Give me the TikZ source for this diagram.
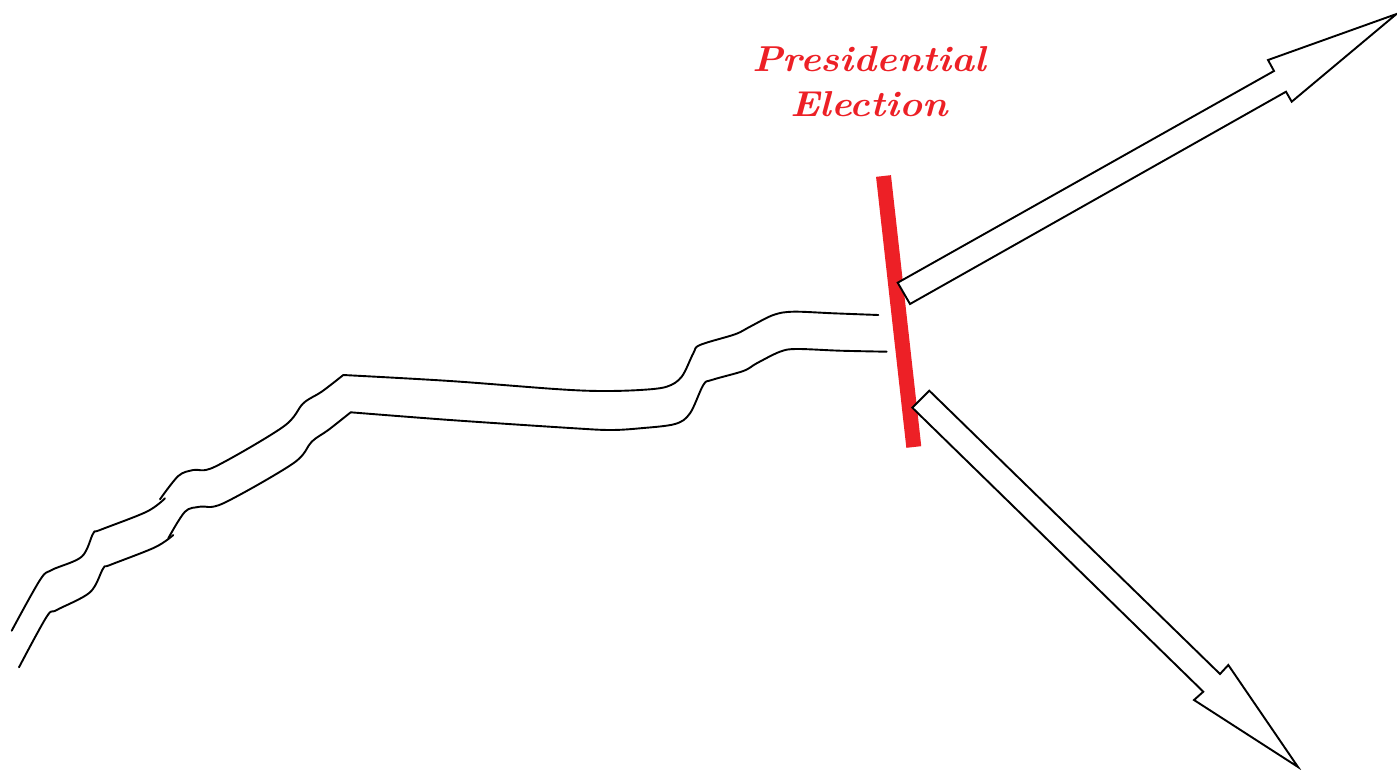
\documentclass[tikz,border=0pt]{standalone}
\usepackage{graphicx}
\definecolor{elecred}{RGB}{237,32,38}
\tikzset{
  road/.style={line width=1.9pt, black, line join=round, line cap=round},
  blockarrow/.style={fill=white, draw=black, line width=1.9pt, line join=miter},
  bar/.style={line width=15pt, elecred},
  label/.style={text=elecred, font=\fontsize{36}{45}\selectfont\bfseries\itshape, inner sep=0pt, anchor=base}
}
\begin{document}
\begin{tikzpicture}[x=1pt,y=-1pt]
\useasboundingbox (0,0) rectangle (1397,770);
% road, upper edge
\draw[road] plot[smooth, tension=0.55] coordinates {(11.7,630.7) (40,580) (51.7,570) (81.7,556.7) (93.3,533.3) (100,530) (146.7,511.7) (165,498.3)};
\draw[road] plot[smooth, tension=0.55] coordinates {(160,499.3) (178.3,476) (193.3,470) (215,466.7) (283.3,426.7) (303.3,403.3) (321.7,391.7) (343.3,375)};
\draw[road] plot[smooth, tension=0.55] coordinates {(343.3,375) (450,381) (555,389) (600,391) (640,390) (666.7,386.7) (681.7,376.7) (693.3,353.3) (700,345) (735,334.3) (750,326.7) (773.3,315) (793.3,311.7) (833.3,313.3) (878.3,315)};
% road, lower edge
\draw[road] plot[smooth, tension=0.55] coordinates {(19,667.3) (46.7,616.7) (56.7,610) (90,592.3) (103.3,568.3) (110,565) (155,547.3) (173.3,535)};
\draw[road] plot[smooth, tension=0.55] coordinates {(168.3,538.3) (185,511.7) (200,506.7) (223.3,503.3) (293.3,463.3) (311.7,441.7) (328.3,430) (350.7,412.3)};
\draw[road] plot[smooth, tension=0.55] coordinates {(350.7,412.3) (450,420) (570,428) (610,430) (640,428.3) (675,424) (690,413.3) (703.3,385) (711.7,380) (743.3,371) (756.7,363.3) (780,351.7) (796.7,349) (840,350.7) (886.7,351.7)};
% election bar
\coordinate (bartop) at (883.5,176);
\coordinate (barbot) at (913.8,447);
\draw[bar] (bartop) -- (barbot);
% arrows
\draw[blockarrow] (897.7,282.7) -- (1274,71) -- (1268,60) -- (1396.5,14) -- (1291.7,101.7) -- (1286,91.7) -- (910,304) -- cycle;
\draw[blockarrow] (912.3,407.7) -- (929.3,390.7) -- (1220,674) -- (1228.3,665) -- (1298,767) -- (1194,700) -- (1203.3,691.7) -- cycle;
% label
\node[label] (t1) at (869,72) {\scalebox{1.08}[1]{Presidential}};
\node[label] (t2) at (869,117) {\scalebox{1.08}[1]{Election}};
\end{tikzpicture}
\end{document}
